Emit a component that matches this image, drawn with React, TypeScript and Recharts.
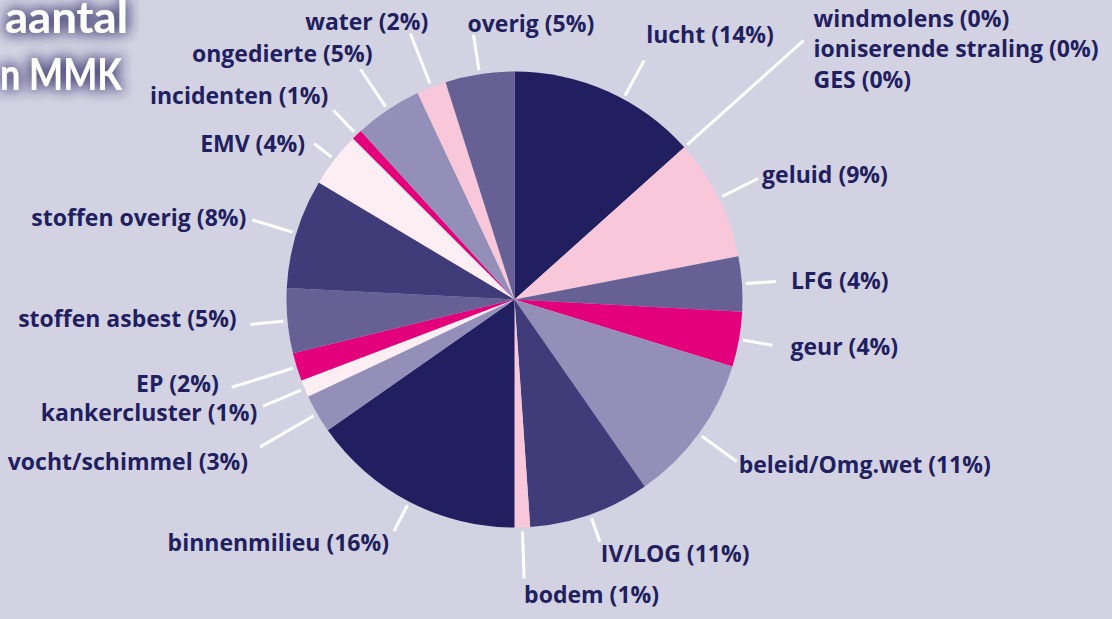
import { PieChart, Pie, Cell } from "recharts";

// categories in clockwise order starting at 12 o'clock
const CATEGORIES = [
  "lucht",
  "windmolens",
  "ioniserende straling",
  "GES",
  "geluid",
  "LFG",
  "geur",
  "beleid/Omg.wet",
  "IV/LOG",
  "bodem",
  "binnenmilieu",
  "vocht/schimmel",
  "kankercluster",
  "EP",
  "stoffen asbest",
  "stoffen overig",
  "EMV",
  "incidenten",
  "ongedierte",
  "water",
  "overig",
];

// share of the pie
const SHARES = [
  13.4, 0, 0, 0, 8.6, 3.9, 3.9, 10.6, 8.6, 1.1, 15.3, 2.75, 1.2, 2.0, 4.6, 7.8,
  3.9, 0.75, 4.8, 2.1, 4.9,
];

// percentages as printed in the labels
const LABEL_PCT = [14, 0, 0, 0, 9, 4, 4, 11, 11, 1, 16, 3, 1, 2, 5, 8, 4, 1, 5, 2, 5];

const NAVY = "#211f5f";
const PINK = "#f8c7da";
const PURPLE = "#666094";
const MAGENTA = "#e5007b";
const LAVENDER = "#948fb9";
const DARKPURPLE = "#403c79";
const BLUSH = "#fdeef3";

const COLORS = [
  NAVY, NAVY, NAVY, NAVY, PINK, PURPLE, MAGENTA, LAVENDER, DARKPURPLE, PINK,
  NAVY, LAVENDER, BLUSH, MAGENTA, PURPLE, DARKPURPLE, BLUSH, MAGENTA, LAVENDER,
  PINK, PURPLE,
];

const data = CATEGORIES.map((name, i) => ({ name, value: SHARES[i], pct: LABEL_PCT[i] }));

// leader line length, clockwise turn (deg), text offset from line end
const LAYOUT: any[] = [
  { ext: 44, turn: 4.4, dx: 2, dy: -17, anchor: "start", line: true },
  { ext: 160, turn: 0, dx: 10, dy: -14, anchor: "start", line: true },
  { ext: 160, turn: 0, dx: 10, dy: 16, anchor: "start", line: false },
  { ext: 160, turn: 0, dx: 10, dy: 47, anchor: "start", line: false },
  { ext: 44, turn: 0, dx: 4, dy: 4, anchor: "start", line: true },
  { ext: 34, turn: 0, dx: 15, dy: 8, anchor: "start", line: true },
  { ext: 34, turn: 0, dx: 18, dy: 10, anchor: "start", line: true },
  { ext: 47, turn: 0, dx: 2, dy: 11, anchor: "start", line: true },
  { ext: 29, turn: 0, dx: 1, dy: 20, anchor: "start", line: true },
  { ext: 51, turn: 0, dx: 0, dy: 25, anchor: "start", line: true },
  { ext: 33, turn: 0, dx: -5, dy: 20, anchor: "end", line: true },
  { ext: 66, turn: 0, dx: -12, dy: 23, anchor: "end", line: true },
  { ext: 45, turn: 0, dx: -6, dy: 15, anchor: "end", line: true },
  { ext: 68, turn: 0, dx: -13, dy: 5, anchor: "end", line: true },
  { ext: 37, turn: 0, dx: -14, dy: 3, anchor: "end", line: true },
  { ext: 46, turn: 0, dx: -6, dy: 6, anchor: "end", line: true },
  { ext: 26, turn: 0, dx: -9, dy: 9, anchor: "end", line: true },
  { ext: 34, turn: 0, dx: -5, dy: -6, anchor: "end", line: true },
  { ext: 49, turn: 0, dx: 12, dy: -7, anchor: "end", line: true },
  { ext: 58, turn: 0, dx: 18, dy: -3, anchor: "end", line: true },
  { ext: 40, turn: 0, dx: -6, dy: -3, anchor: "start", line: true },
];

const RAD = Math.PI / 180;
const FONT = "'Open Sans', 'Noto Sans', sans-serif";

const renderLabel = (props: any) => {
  const { cx, cy, midAngle, outerRadius, index } = props;
  const l = LAYOUT[index];
  const a = (midAngle - l.turn) * RAD;
  const r0 = outerRadius + 4;
  const r1 = outerRadius + l.ext;
  const x0 = cx + r0 * Math.cos(a);
  const y0 = cy - r0 * Math.sin(a);
  const x1 = cx + r1 * Math.cos(a);
  const y1 = cy - r1 * Math.sin(a);
  return (
    <g key={`lbl-${index}`}>
      {l.line && (
        <line x1={x0} y1={y0} x2={x1} y2={y1} stroke="#ffffff" strokeWidth={3} />
      )}
      <text
        x={x1 + l.dx}
        y={y1 + l.dy}
        textAnchor={l.anchor}
        fill={NAVY}
        fontFamily={FONT}
        fontWeight={700}
        fontSize={23}
      >
        {`${data[index].name} (${data[index].pct}%)`}
      </text>
    </g>
  );
};

export default function App() {
  return (
    <div
      style={{
        position: "fixed",
        left: 0,
        top: 0,
        width: 1112,
        height: 619,
        background: "#d3d2e2",
        overflow: "hidden",
      }}
    >
      <style>{`.recharts-pie-sectors{filter:drop-shadow(2px 3px 6px rgba(50,45,85,0.6));}`}</style>
      <PieChart width={1112} height={619} margin={{ top: 0, right: 0, bottom: 0, left: 0 }}>
        <Pie
          data={data}
          dataKey="value"
          nameKey="name"
          cx={514.5}
          cy={299.5}
          outerRadius={228}
          startAngle={90}
          endAngle={-270}
          stroke="none"
          labelLine={false}
          label={renderLabel}
          isAnimationActive={false}
        >
          {data.map((_: any, i: number) => (
            <Cell key={i} fill={COLORS[i]} stroke="none" />
          ))}
        </Pie>
      </PieChart>

      {/* title, cut off at the left edge */}
      <svg
        width={300}
        height={120}
        style={{ position: "absolute", left: 0, top: 0 }}
      >
        <defs>
          <filter id="glow" x="-40%" y="-80%" width="180%" height="260%">
            <feGaussianBlur in="SourceAlpha" stdDeviation="7" result="b" />
            <feFlood floodColor="#3e3870" floodOpacity="1" />
            <feComposite in2="b" operator="in" result="s" />
            <feMerge>
              <feMergeNode in="s" />
              <feMergeNode in="s" />
              <feMergeNode in="SourceGraphic" />
            </feMerge>
          </filter>
        </defs>
        <g filter="url(#glow)" fill="#ffffff" fontFamily="Lato, sans-serif" fontWeight={700} fontSize={44}>
          <text x={5} y={33} textLength={123} lengthAdjust="spacingAndGlyphs">aantal</text>
          <text x={0} y={90} textLength={122} lengthAdjust="spacingAndGlyphs">n MMK</text>
        </g>
      </svg>
    </div>
  );
}
